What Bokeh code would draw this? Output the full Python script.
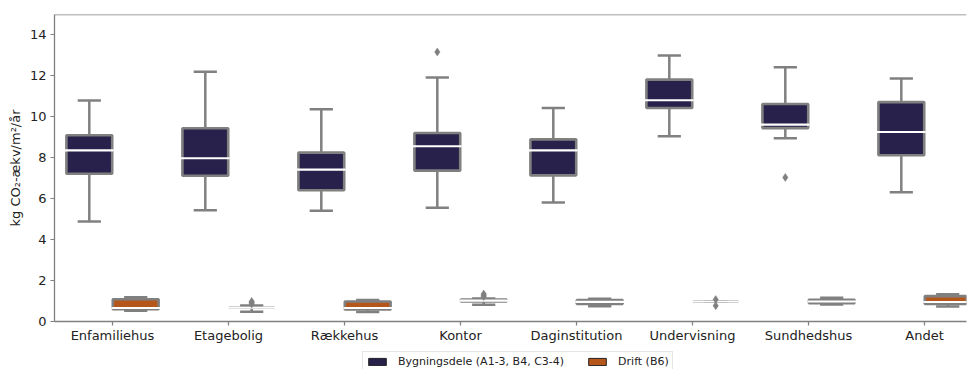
from bokeh.plotting import figure
from bokeh.layouts import column
from bokeh.models import Range1d, FixedTicker, Legend, LegendItem, Span, ColumnDataSource
from bokeh.embed import file_html
from bokeh.resources import INLINE

categories = ["Enfamiliehus", "Etagebolig", "Rækkehus", "Kontor",
              "Daginstitution", "Undervisning", "Sundhedshus", "Andet"]
y_ticks = [0, 2, 4, 6, 8, 10, 12, 14]

series_names = ["Bygningsdele (A1-3, B4, C3-4)", "Drift (B6)"]

# Bygningsdele (A1-3, B4, C3-4)
byg_low = [4.88, 5.44, 5.41, 5.56, 5.82, 9.05, 8.95, 6.32]
byg_q1 = [7.22, 7.12, 6.41, 7.37, 7.14, 10.43, 9.45, 8.12]
byg_med = [8.36, 7.98, 7.42, 8.56, 8.36, 10.81, 9.62, 9.26]
byg_q3 = [9.10, 9.44, 8.25, 9.21, 8.90, 11.82, 10.63, 10.72]
byg_high = [10.80, 12.20, 10.37, 11.92, 10.43, 13.00, 12.42, 11.87]
byg_outliers = [[], [], [], [13.17], [], [], [7.04], []]

# Drift (B6)
drift_low = [0.52, 0.48, 0.46, 0.82, 0.74, 0.98, 0.83, 0.73]
drift_q1 = [0.60, 0.67, 0.59, 0.98, 0.86, 0.98, 0.90, 0.86]
drift_med = [0.66, 0.67, 0.66, 1.02, 0.96, 0.98, 0.98, 0.95]
drift_q3 = [1.09, 0.67, 0.98, 1.07, 1.05, 0.98, 1.06, 1.24]
drift_high = [1.19, 0.78, 1.05, 1.12, 1.11, 0.98, 1.16, 1.33]
drift_outliers = [[], [0.98, 0.92, 0.86], [], [1.34, 1.28, 1.22], [], [1.07, 0.77], [], []]

DARK = "#27214b"
ORANGE = "#b5561b"
GREY = "#808080"
TEXT = "#222222"
FONT = "DejaVu Sans"

p = figure(width=968, height=345,
           x_range=Range1d(-0.5, 7.362), y_range=Range1d(0, 15),
           output_backend="svg", toolbar_location=None,
           min_border_left=54, min_border_right=2,
           min_border_top=14, min_border_bottom=24)
p.xgrid.visible = False
p.ygrid.visible = False
p.outline_line_color = None
p.background_fill_color = "white"
p.border_fill_color = "white"

BOX_W = 0.395
CAP_HALF = 0.1
MED_HALF = 0.21


def draw_series(low, q1, med, q3, high, outliers, offset, color):
    xs = [i + offset for i in range(len(categories))]
    src = ColumnDataSource(dict(
        x=xs, low=low, q1=q1, med=med, q3=q3, high=high,
        cl=[x - CAP_HALF for x in xs], cr=[x + CAP_HALF for x in xs],
        ml=[x - MED_HALF for x in xs], mr=[x + MED_HALF for x in xs],
    ))
    p.segment(x0="x", y0="q3", x1="x", y1="high", source=src,
              line_color=GREY, line_width=2.5)
    p.segment(x0="x", y0="low", x1="x", y1="q1", source=src,
              line_color=GREY, line_width=2.5)
    p.segment(x0="cl", y0="high", x1="cr", y1="high", source=src,
              line_color=GREY, line_width=2.5)
    p.segment(x0="cl", y0="low", x1="cr", y1="low", source=src,
              line_color=GREY, line_width=2.5)
    p.vbar(x="x", width=BOX_W, bottom="q1", top="q3", source=src,
           fill_color=color, line_color=GREY, line_width=2.6)
    p.segment(x0="ml", y0="med", x1="mr", y1="med", source=src,
              line_color="white", line_width=2.1)
    ox, oy = [], []
    for i, vals in enumerate(outliers):
        for v in vals:
            ox.append(i + offset)
            oy.append(v)
    if ox:
        p.scatter(ox, oy, marker="diamond", size=8,
                  fill_color=GREY, line_color=GREY, line_width=0.5)


draw_series(byg_low, byg_q1, byg_med, byg_q3, byg_high, byg_outliers, -0.2, DARK)
draw_series(drift_low, drift_q1, drift_med, drift_q3, drift_high, drift_outliers, 0.2, ORANGE)

# top spine
p.add_layout(Span(location=15, dimension="width", line_color=GREY, line_width=1.3))

# axes
p.xaxis.ticker = FixedTicker(ticks=list(range(len(categories))))
p.xaxis.major_label_overrides = {i: c for i, c in enumerate(categories)}
p.yaxis.ticker = FixedTicker(ticks=y_ticks)
p.yaxis.axis_label = "kg CO₂-ækv/m²/år"
for ax in (p.xaxis[0], p.yaxis[0]):
    ax.axis_line_color = GREY
    ax.axis_line_width = 1.3
    ax.major_tick_line_color = GREY
    ax.major_tick_line_width = 1.2
    ax.major_tick_out = 4
    ax.major_tick_in = 0
    ax.minor_tick_line_color = None
    ax.major_label_text_font = FONT
    ax.major_label_text_font_size = "13px"
    ax.major_label_text_color = TEXT
    ax.axis_label_text_font = FONT
    ax.axis_label_text_font_size = "13px"
    ax.axis_label_text_font_style = "normal"
    ax.axis_label_text_color = TEXT
p.xaxis.major_label_standoff = 2
p.yaxis.major_label_standoff = 4
p.yaxis.axis_label_standoff = 4

# legend strip below the chart (legend proxies sit outside the visible range)
p2 = figure(width=968, height=24, x_range=Range1d(0, 1), y_range=Range1d(0, 1),
            output_backend="svg", toolbar_location=None,
            x_axis_type=None, y_axis_type=None,
            min_border_left=0, min_border_right=0, min_border_top=0, min_border_bottom=0)
p2.grid.visible = False
p2.outline_line_color = None
p2.background_fill_color = "white"
p2.border_fill_color = "white"
leg_dark = p2.vbar(x=[0.5], width=0.1, top=[-2], bottom=[-3], fill_color=DARK,
                   line_color="#222222", line_width=1)
leg_or = p2.vbar(x=[0.5], width=0.1, top=[-2], bottom=[-3], fill_color=ORANGE,
                 line_color="#222222", line_width=1)

legend = Legend(items=[LegendItem(label=series_names[0], renderers=[leg_dark]),
                       LegendItem(label=series_names[1], renderers=[leg_or])],
                orientation="horizontal", location=(308, -3))
legend.label_text_font = FONT
legend.label_text_font_size = "11px"
legend.label_text_color = TEXT
legend.glyph_width = 22
legend.glyph_height = 9
legend.label_height = 12
legend.label_standoff = 10
legend.spacing = 22
legend.padding = 3
legend.margin = 0
legend.border_line_color = "#cccccc"
legend.border_line_width = 1
legend.background_fill_color = "white"
legend.background_fill_alpha = 1
p2.add_layout(legend)

layout = column(p, p2, spacing=0)
open("out.html", "w").write(file_html(layout, INLINE))
